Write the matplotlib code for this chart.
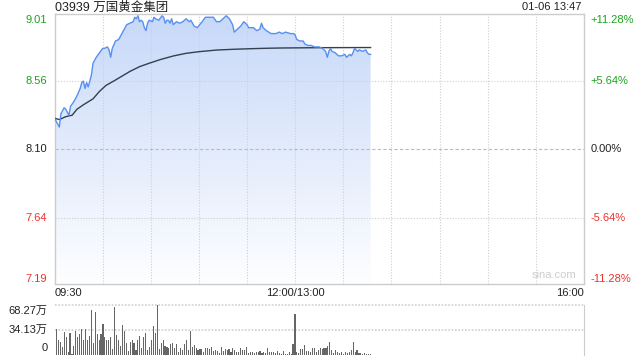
import numpy as np
import matplotlib
matplotlib.use("Agg")
import matplotlib.pyplot as plt

plt.rcParams['font.family'] = ['Liberation Sans', 'Noto Sans CJK SC', 'DejaVu Sans']

# 分时数据 (分钟, 以 09:30 为 0, 午休合并, 全天 330 分钟)
minutes = [0, 3, 4, 6, 7, 9, 10, 12, 14, 16,
           17, 18, 19, 20, 21, 23, 24, 26, 28, 30,
           31, 33, 34, 35, 36, 38, 40, 42, 44, 45,
           47, 49, 50, 51, 52, 53, 54, 55, 56, 57,
           58, 59, 61, 62, 63, 65, 67, 68, 69, 70,
           71, 72, 73, 74, 76, 78, 80, 82, 84, 85,
           87, 89, 92, 94, 97, 99, 101, 103, 105, 107,
           109, 110, 111, 112, 114, 116, 118, 120, 121, 124,
           126, 128, 129, 130, 132, 135, 138, 140, 142, 144,
           147, 149, 150, 151, 153, 155, 156, 158, 160, 162,
           165, 167, 169, 170, 171, 172, 173, 175, 177, 179,
           181, 182, 184, 185, 186, 187, 189, 190, 192, 194,
           195, 196, 197]
prices = [8.31, 8.25, 8.34, 8.38, 8.37, 8.33, 8.39, 8.42, 8.46, 8.51,
          8.55, 8.56, 8.51, 8.55, 8.52, 8.60, 8.68, 8.72, 8.75, 8.78,
          8.78, 8.79, 8.77, 8.72, 8.78, 8.83, 8.84, 8.88, 8.92, 8.94,
          8.95, 8.96, 8.99, 8.98, 9.00, 8.96, 8.97, 8.96, 8.92, 8.90,
          8.95, 8.97, 8.96, 8.99, 8.98, 8.97, 9.00, 8.99, 8.95, 8.97,
          8.97, 8.95, 8.98, 8.94, 8.96, 8.95, 8.96, 8.98, 8.96, 8.97,
          8.93, 8.92, 8.96, 8.99, 8.99, 8.99, 8.96, 8.96, 8.98, 9.00,
          8.98, 8.96, 8.94, 8.89, 8.91, 8.93, 8.96, 8.94, 8.92, 8.92,
          8.90, 8.91, 8.95, 8.92, 8.90, 8.88, 8.88, 8.89, 8.88, 8.89,
          8.88, 8.88, 8.87, 8.84, 8.83, 8.83, 8.81, 8.80, 8.80, 8.79,
          8.79, 8.78, 8.76, 8.72, 8.76, 8.78, 8.76, 8.75, 8.73, 8.73,
          8.74, 8.72, 8.74, 8.73, 8.75, 8.78, 8.76, 8.77, 8.76, 8.77,
          8.75, 8.74, 8.74]

# 均价线
avg_minutes = [0, 3, 7, 11, 14, 18, 24, 28, 32, 38,
               47, 53, 59, 66, 74, 82, 90, 101, 111, 122,
               132, 142, 165, 197]
avg_prices = [8.31, 8.30, 8.32, 8.33, 8.37, 8.40, 8.44, 8.49, 8.53, 8.567,
              8.625, 8.657, 8.68, 8.705, 8.729, 8.747, 8.758, 8.769, 8.774, 8.778,
              8.781, 8.783, 8.785, 8.786]

# 成交量 (万股), 均匀分布于 0-197 分钟
volumes = [15, 36, 20, 18, 11, 32, 25, 4, 30, 2, 12, 33, 24, 29, 35, 20, 35, 20, 26, 62,
           17, 59, 29, 21, 29, 43, 24, 20, 20, 25, 8, 66, 27, 20, 12, 41, 33, 16, 6, 18,
           20, 16, 7, 21, 26, 9, 24, 30, 7, 11, 21, 40,
           30, 68, 8, 17, 20, 12, 11, 10, 15, 17, 9, 15, 4, 10, 7, 15, 20, 7, 33, 11,
           14, 9, 7, 8, 8, 4, 9, 9, 8, 11, 6, 7, 6, 3, 11, 6, 8, 7, 8, 4,
           9, 7, 4, 4, 10, 7, 7, 11, 3, 4, 4, 3, 4,
           4.5, 5, 3, 4.5, 3, 10, 4.5, 3.5, 4.5, 3, 6, 3, 2, 6, 2, 1.5, 4.5, 2, 15, 56,
           4.5, 3, 8, 8, 14, 6, 6, 4.5, 9, 9, 4.5, 7, 10, 8, 10, 9, 12, 18, 7, 3,
           7, 4.5, 3, 4.5, 2, 4.5, 3, 4.5, 7, 18, 4.5, 7, 3, 3, 2, 3, 2, 2, 1.5]

price_ticks = [9.01, 8.56, 8.10, 7.64, 7.19]
pct_labels = ['+11.28%', '+5.64%', '0.00%', '-5.64%', '-11.28%']
vol_ticks = [68.27, 34.13, 0]
vol_labels = ['68.27万', '34.13万', '0']
time_ticks = [0, 150, 330]
time_labels = ['09:30', '12:00/13:00', '16:00']
title = '03939 万国黄金集团'
stamp = '01-06 13:47'

W, H = 640, 360
GREEN = '#1ba41b'
RED = '#f0302a'
GRID = '#cfcfcf'
TXT = '#222222'

fig = plt.figure(figsize=(6.4, 3.6), dpi=100)
fig.patch.set_facecolor('white')


def box(l, t, r, b):
    return [l / W, 1 - b / H, (r - l) / W, (b - t) / H]


ax = fig.add_axes(box(54.5, 14.3, 584, 284.3))
ax.set_xlim(0, 330)
ax.set_ylim(price_ticks[-1], price_ticks[0])
for s in ax.spines.values():
    s.set_color('#cccccc')
    s.set_linewidth(1)
ax.set_xticks([])
ax.set_yticks([])

# 网格线画在填充之上
for m in range(30, 330, 30):
    ax.axvline(m, color=GRID, lw=0.8, ls=(0, (1, 1.5)), zorder=3)
for p in price_ticks[1:-1]:
    if p == 8.10:
        ax.axhline(p, color='#bbbbbb', lw=0.8, ls=(0, (3, 2)), zorder=3)
    else:
        ax.axhline(p, color=GRID, lw=0.8, ls=(0, (1, 1.5)), zorder=3)

# 渐变填充
x = np.array(minutes)
y = np.array(prices)
poly = ax.fill_between(x, y, price_ticks[-1], facecolor='none', edgecolor='none')
grad = np.linspace(0, 1, 256).reshape(-1, 1)
top = np.array([0.78, 0.85, 0.975])
bot = np.array([0.995, 0.997, 1.0])
img = top + (bot - top) * grad
img = img.reshape(256, 1, 3)
im = ax.imshow(img, extent=[0, 330, price_ticks[-1], price_ticks[0]],
               aspect='auto', origin='upper', zorder=2)
im.set_clip_path(poly.get_paths()[0], ax.transData)

ax.plot(x, y, color='#5890f0', lw=1.0, zorder=5)
ax.plot(avg_minutes, avg_prices, color='#34404f', lw=1.0, zorder=4)

ax.text(0.985, 0.015, 'sina.com', transform=ax.transAxes, ha='right', va='bottom',
        fontsize=8, color='#cdcdcd', zorder=5)

# 左右标签
colors = [GREEN, GREEN, TXT, RED, RED]
vas = ['top', 'center', 'center', 'center', 'bottom']
for p, lab, c, va in zip(price_ticks, pct_labels, colors, vas):
    yy = p
    if va == 'top':
        yy = p - 0.005
    elif va == 'bottom':
        yy = p + 0.005
    ax.text(-4.5, yy, f'{p:.2f}', ha='right', va=va, color=c, fontsize=8,
            transform=ax.transData, clip_on=False)
    ax.text(334, yy, lab, ha='left', va=va, color=c, fontsize=8,
            transform=ax.transData, clip_on=False)

fig.text(55 / W, 1 - 7.5 / H, title, ha='left', va='center', fontsize=9, color=TXT)
fig.text(581 / W, 1 - 7.5 / H, stamp, ha='right', va='center', fontsize=8, color=TXT)

# 时间标签
has = ['left', 'center', 'right']
for m, lab, ha in zip(time_ticks, time_labels, has):
    xx = 54.5 + m / 330 * 529.5
    fig.text(xx / W, 1 - 293 / H, lab, ha=ha, va='center', fontsize=8, color=TXT)

# 成交量
vx = np.linspace(0, 197, len(volumes))
vax = fig.add_axes(box(54.5, 305, 584, 355))
vax.set_xlim(0, 330)
vax.set_ylim(0, vol_ticks[0])
vax.bar(vx, volumes, width=0.7, color='#666666', zorder=3)
vax.set_xticks([])
vax.set_yticks([])
for k in ['top', 'left', 'bottom']:
    vax.spines[k].set_visible(False)
vax.spines['right'].set_color('#cccccc')
for v in vol_ticks[:2]:
    vax.axhline(v, color=GRID, lw=1.2, ls=(0, (1, 1)), zorder=1, clip_on=False)
vvas = ['top', 'center', 'bottom']
for v, lab, va in zip(vol_ticks, vol_labels, vvas):
    yy = v
    if va == 'top':
        yy = v - 1.5
    elif va == 'bottom':
        yy = v + 2.5
    vax.text(-4.5, yy, lab, ha='right', va=va, fontsize=8, color=TXT, clip_on=False)

fig.savefig('out.png', dpi=100)
